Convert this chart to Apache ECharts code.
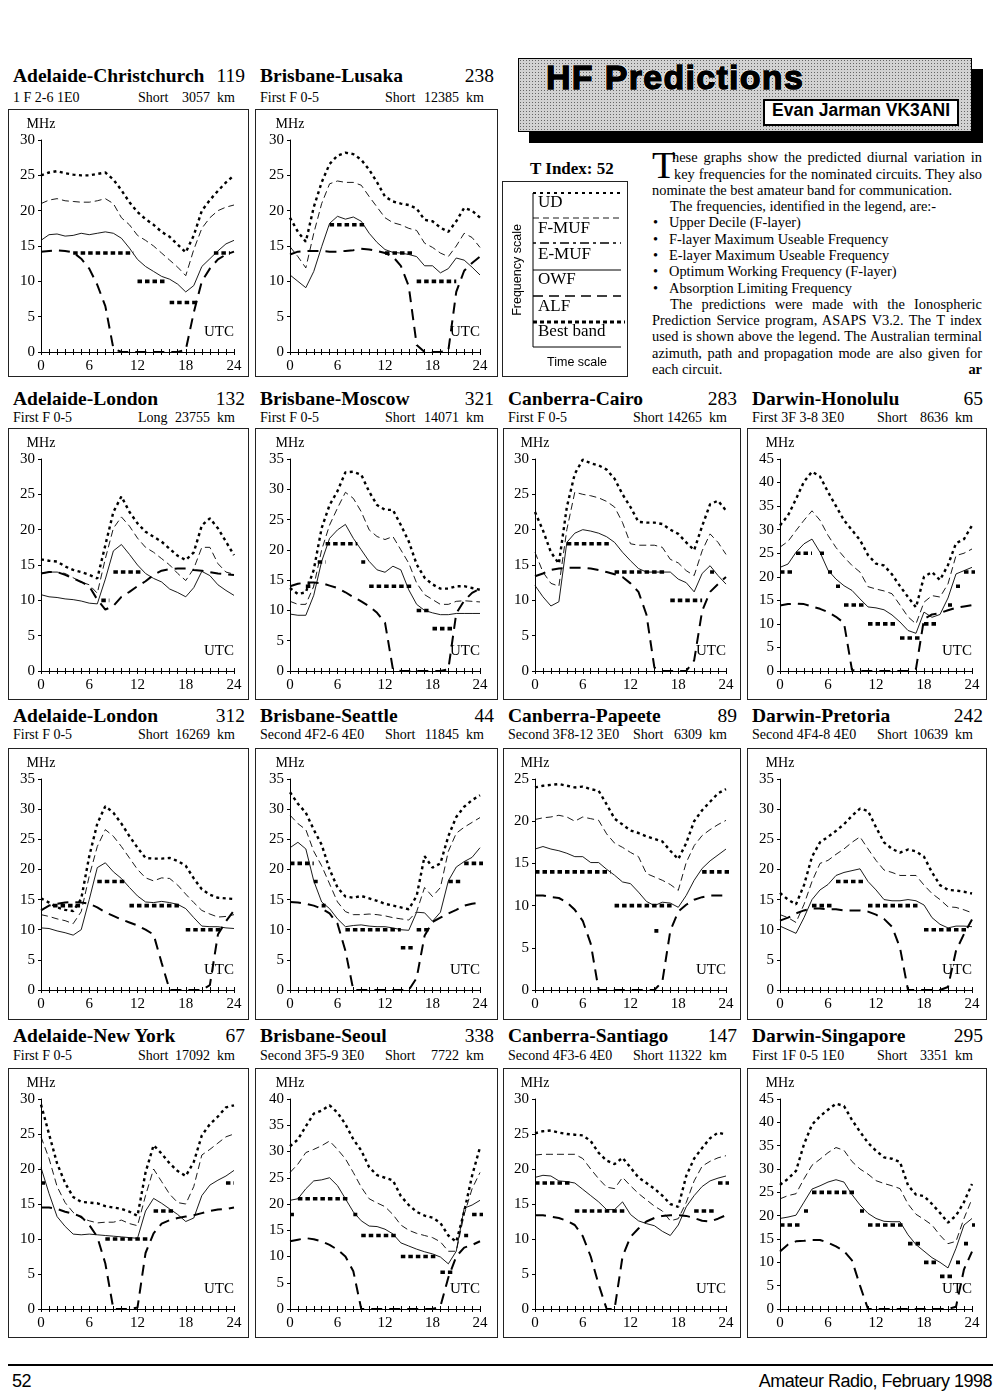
<!DOCTYPE html>
<html>
<head>
<meta charset="utf-8">
<script src="https://cdn.jsdelivr.net/npm/echarts/dist/echarts.min.js"></script>
<style>
html, body { margin: 0; padding: 0; background: #fff; }
body { width: 1000px; height: 1397px; position: relative; overflow: hidden; font-family: 'Liberation Serif', serif; color: #000; }
.t { position: absolute; white-space: nowrap; }
.box { position: absolute; border: 1px solid #222; box-sizing: border-box; }
.bl { position: absolute; font-size: 14.4px; line-height: 14.4px; white-space: nowrap; }
.j { text-align: justify; text-align-last: justify; white-space: normal; }
</style>
</head>
<body>

<!-- header -->
<div style="position:absolute;left:518px;top:58px;width:454px;height:74px;box-sizing:border-box;border:1.5px solid #000;
  background-color:#d2d2d2;background-image:radial-gradient(circle,#666 0.7px,transparent 1px);background-size:3px 3px;
  box-shadow:11px 11px 0 #000;"></div>
<div class="t" style="left:546px;top:60px;font-family:'Liberation Sans';font-weight:bold;font-size:34px;line-height:34px;letter-spacing:1.3px;
  -webkit-text-stroke:1.4px #000;text-shadow:1px 1px 0 #fff,-1px -1px 0 #fff,1px -1px 0 #fff,-1px 1px 0 #fff;">HF Predictions</div>
<div style="position:absolute;left:763px;top:99px;width:196px;height:27px;box-sizing:border-box;border:2px solid #000;background:#fff;"></div>
<div class="t" style="left:772px;top:102px;font-family:'Liberation Sans';font-weight:bold;font-size:17.5px;line-height:17.5px;">Evan Jarman VK3ANI</div>

<div class="t" style="left:530px;top:160px;font-weight:bold;font-size:17px;line-height:17px;">T Index: 52</div>
<div id="legend" style="position:absolute;left:502px;top:181px;width:126px;height:196px;box-sizing:border-box;border:1px solid #222;"></div>

<!-- body text -->
<div class="t" style="left:652px;top:146px;font-size:38.7px;line-height:38.7px;">T</div>
<div class="bl j" style="left:672px;top:150.2px;width:310px;">hese graphs show the predicted diurnal variation in</div>
<div class="bl j" style="left:674px;top:166.5px;width:308px;">key frequencies for the nominated circuits. They also</div>
<div class="bl" style="left:652px;top:182.8px;">nominate the best amateur band for communication.</div>
<div class="bl" style="left:670px;top:199.1px;">The frequencies, identified in the legend, are:-</div>
<div class="bl" style="left:653px;top:215.4px;">&bull;</div><div class="bl" style="left:669px;top:215.4px;">Upper Decile (F-layer)</div>
<div class="bl" style="left:653px;top:231.6px;">&bull;</div><div class="bl" style="left:669px;top:231.6px;">F-layer Maximum Useable Frequency</div>
<div class="bl" style="left:653px;top:247.9px;">&bull;</div><div class="bl" style="left:669px;top:247.9px;">E-layer Maximum Useable Frequency</div>
<div class="bl" style="left:653px;top:264.2px;">&bull;</div><div class="bl" style="left:669px;top:264.2px;">Optimum Working Frequency (F-layer)</div>
<div class="bl" style="left:653px;top:280.5px;">&bull;</div><div class="bl" style="left:669px;top:280.5px;">Absorption Limiting Frequency</div>
<div class="bl j" style="left:670px;top:296.8px;width:312px;">The predictions were made with the Ionospheric</div>
<div class="bl j" style="left:652px;top:313px;width:330px;">Prediction Service program, ASAPS V3.2. The T index</div>
<div class="bl j" style="left:652px;top:329.3px;width:330px;">used is shown above the legend. The Australian terminal</div>
<div class="bl j" style="left:652px;top:345.6px;width:330px;">azimuth, path and propagation mode are also given for</div>
<div class="bl" style="left:652px;top:361.9px;">each circuit.</div>
<div class="bl" style="right:18px;top:361.9px;font-weight:bold;">ar</div>

<!-- footer -->
<div style="position:absolute;left:8px;top:1364px;width:985px;height:1.5px;background:#000;"></div>
<div class="t" style="left:12px;top:1372px;font-family:'Liberation Sans';font-size:18px;line-height:18px;letter-spacing:-0.5px;">52</div>
<div class="t" style="right:8px;top:1372px;font-family:'Liberation Sans';font-size:18px;line-height:18px;letter-spacing:-0.5px;">Amateur Radio, February 1998</div>

<script>
const hours = [0,1,2,3,4,5,6,7,8,9,10,11,12,13,14,15,16,17,18,19,20,21,22,23,24];

// Adelaide-Christchurch
const c1UD   = [25.0,25.4,25.6,25.3,25.1,25.0,25.0,25.2,25.4,24.4,22.9,21.2,19.8,18.8,18.0,17.0,16.3,15.2,14.1,16.5,20.0,21.5,22.8,24.0,25.0];
const c1FMUF = [21.0,21.5,21.7,21.4,21.3,21.2,21.2,21.4,21.7,21.0,19.0,18.0,16.5,15.8,15.0,14.0,13.0,12.0,10.8,14.5,17.5,19.0,20.0,20.5,20.8];
const c1OWF  = [15.8,16.6,16.7,16.4,16.5,16.8,16.6,16.8,17.0,16.8,16.1,14.7,13.1,12.1,11.4,10.7,10.3,9.6,8.5,9.4,12.1,13.2,14.3,15.3,15.8];
const c1ALF  = [14.2,14.3,14.4,14.3,14.1,13.2,11.8,9.5,6.5,0.5,0,0,0,0,0,0,0,0,0.3,5.6,10,11.8,13.1,13.8,14.2];
const c1Best = [[4,11.5,14],[12,15.5,10],[16,19.5,7],[21.5,23.5,14]];

// Brisbane-Lusaka
const c2UD   = [19.0,17.0,15.6,20.5,24.0,26.6,27.8,28.2,28.0,27.2,25.8,24.0,22.0,21.3,21.0,20.8,20.3,18.7,18.5,17.6,17.0,18.5,20.4,20.0,19.0];
const c2FMUF = [14.9,13.5,11.9,16.8,21.0,23.8,24.2,24.0,24.0,23.6,22.0,20.5,19.0,18.3,18.0,17.5,17.2,15.4,14.8,14.0,13.5,15.0,16.8,16.2,14.8];
const c2OWF  = [10.9,10.0,9.1,11.4,14.9,18.2,19.2,18.8,19.1,18.5,16.8,15.5,14.5,14.1,14.0,13.8,13.5,12.2,12.2,11.2,11.8,13.3,13.0,12.0,10.9];
const c2ALF  = [13.8,14.2,14.3,14.3,14.3,14.2,14.2,14.3,14.4,14.6,14.5,14.3,14.0,13.5,12.2,9.3,1.0,0,0,0,0.2,8.5,11.5,12.6,13.5];
const c2Best = [[5,9.5,18],[12,15.5,14],[16,21,10]];

// Adelaide-London (long path)
const c3UD   = [15.8,15.6,15.5,14.8,14.3,14.0,13.6,13.1,17.8,22.5,24.7,22.5,20.9,19.7,19.0,18.3,17.3,16.3,15.7,16.8,20.6,21.6,20.2,18.3,16.4];
const c3FMUF = [13.8,14.0,14.0,13.8,13.2,12.6,12.2,11.0,15.9,20.2,21.8,20.5,18.8,17.5,16.8,15.9,15.0,13.8,12.8,14.5,17.5,17.5,15.2,14.0,13.7];
const c3OWF  = [10.8,10.5,10.4,10.2,10.1,9.9,9.6,9.5,13.0,17.0,17.9,16.5,15.0,13.8,13.1,12.6,11.6,11.1,10.5,11.8,14.1,13.5,12.2,11.4,10.7];
const c3ALF  = [13.8,14.0,14.0,13.6,13.1,12.6,12.0,10.1,8.7,9.2,10.5,11.2,12.0,12.7,13.6,14.2,14.4,14.5,14.5,14.3,14.2,14.0,13.8,13.7,13.6];
const c3Best = [[7.5,8.5,10],[9,12.5,14]];

// Brisbane-Moscow
const c4UD   = [13.7,12.7,13.0,16.7,23.6,27.4,29.7,32.8,32.9,32.4,29.6,27.4,26.6,26.6,24.1,21.4,17.6,15.4,14.3,13.6,13.6,14.0,14.0,13.7,13.4];
const c4FMUF = [11.5,11.0,11.0,14.0,20.0,24.1,26.9,29.5,28.5,26.3,23.3,22.2,21.7,22.2,20.0,17.8,14.5,12.6,11.8,11.0,11.0,11.5,11.6,11.5,11.4];
const c4OWF  = [9.4,9.2,9.2,12.5,18.1,21.9,23.3,24.2,21.9,20.0,18.1,16.7,16.3,17.3,16.7,13.4,11.0,10.0,9.6,9.3,9.3,9.5,9.5,9.5,9.5];
const c4ALF  = [14.0,14.4,14.6,14.6,14.5,14.1,13.7,13.0,12.2,11.5,10.7,9.6,8.0,0.3,0,0,0,0,0,0,0.3,9.5,11.6,12.9,13.6];
const c4Best = [[2,3,14],[3.5,4.5,18],[4.5,8.5,21],[9,9.5,18],[10,15.5,14],[16,17.5,10],[18,20.5,7]];

// Canberra-Cairo
const c5UD   = [22.5,19.9,16.8,15.2,23.2,27.9,29.9,29.4,29.1,28.5,27.2,25.0,23.2,21.1,21.0,21.0,20.8,20.0,19.4,18.2,17.1,20.5,23.6,24.1,22.7];
const c5FMUF = [16.8,14.0,12.4,12.0,20.0,25.3,25.0,24.8,24.5,24.0,23.2,21.0,18.0,17.8,17.8,17.8,17.5,15.8,15.3,14.2,13.5,17.0,19.4,18.2,16.5];
const c5OWF  = [12.1,10.5,9.2,9.8,18.2,19.5,20.0,19.8,19.5,19.0,18.2,16.8,15.6,14.5,14.0,14.0,14.0,14.0,13.0,12.5,11.2,13.8,14.9,13.5,12.3];
const c5ALF  = [13.4,13.8,14.3,14.5,14.6,14.6,14.6,14.5,14.3,14.0,13.7,13.3,12.4,11.2,8.0,0.5,0,0,0,0,1.5,8.5,11.2,12.3,13.3];
const c5Best = [[4,9.5,18],[10,16.5,14],[17,21,10],[22,22.5,14]];

// Darwin-Honolulu
const c6UD   = [30.9,33.0,36.5,40.2,42.3,41.3,38.0,35.0,32.0,29.9,27.8,24.6,22.8,22.4,20.5,18.0,15.7,13.5,20.0,21.0,19.3,22.5,27.1,28.0,30.9];
const c6FMUF = [26.3,27.5,29.8,32.0,34.0,32.0,28.8,26.2,24.2,22.4,21.0,17.9,17.4,17.0,16.4,14.0,11.5,10.0,14.6,16.0,15.7,18.5,24.5,25.0,25.9];
const c6OWF  = [22.0,22.7,25.2,27.0,28.0,25.2,21.4,19.5,18.1,17.1,15.3,13.6,13.4,13.0,11.9,10.4,8.6,8.0,12.5,11.4,12.0,15.5,20.6,21.3,22.0];
const c6ALF  = [13.9,14.2,14.3,14.2,13.7,13.2,12.5,11.5,10.2,0.2,0,0,0,0,0,0,0,0.5,11.0,12.0,12.3,12.9,13.4,13.7,14.0];
const c6Best = [[0,1.5,21],[2,4,25],[5,5.5,25],[6,6.5,21],[7,7.5,18],[8,10.5,14],[11,14.5,10],[15,17.5,7],[18,19.5,10],[21,21.5,14],[22,22.5,18],[23,24.5,21]];

// Adelaide-London (short path)
const c7UD   = [15.2,14.5,13.7,13.3,13.1,15.1,22.2,27.6,30.5,29.4,27.6,25.5,23.6,21.9,21.8,21.8,21.9,21.4,20.6,18.5,16.7,15.8,15.3,15.2,15.1];
const c7FMUF = [12.5,12.2,11.8,11.5,11.0,13.0,18.9,23.8,26.6,25.5,23.8,21.9,20.0,18.6,18.1,18.6,18.5,17.4,15.9,14.5,13.2,12.6,12.1,12.2,12.5];
const c7OWF  = [10.3,10.2,9.8,9.5,9.1,10.0,15.0,20.3,21.1,19.6,18.5,17.0,15.6,14.6,14.5,14.7,14.5,14.2,13.5,12.0,10.6,10.5,10.5,10.3,10.2];
const c7ALF  = [13.2,14.0,14.3,14.5,14.6,14.5,14.3,13.7,12.9,12.3,11.7,11.2,10.7,10.0,9.2,4.5,0,0,0,0,0,0.8,9.2,11.4,13.2];
const c7Best = [[1.5,5,14],[7,10.5,18],[11,17.5,14],[18,22.5,10]];

// Brisbane-Seattle
const c8UD   = [32.8,30.9,29.4,26.6,24.1,20.0,17.0,15.5,15.3,15.6,15.2,14.8,14.3,14.0,13.7,13.4,15.6,22.2,20.3,21.0,25.5,28.7,30.4,31.5,32.3];
const c8FMUF = [29.0,27.6,26.6,23.0,20.6,17.6,14.6,13.0,12.5,12.5,12.6,12.5,12.3,12.0,11.8,11.6,13.0,17.0,15.5,17.0,23.0,26.0,27.0,27.8,28.6];
const c8OWF  = [23.6,24.5,23.4,18.1,14.6,13.5,11.8,10.5,10.7,10.8,10.6,10.5,10.5,10.3,10.0,9.9,12.9,12.8,11.4,12.9,18.1,20.4,21.3,22.0,23.6];
const c8ALF  = [14.6,14.5,14.3,14.0,13.5,12.7,11.0,6.5,0,0,0,0,0,0,0,0,2.0,9.0,11.3,12.0,12.7,13.3,14.0,14.3,14.5];
const c8Best = [[0,3,21],[3,3.5,18],[4,4.5,14],[7,14,10],[14,15.5,7],[16,17.5,10],[20,21.5,18],[22,24.5,21]];

// Canberra-Papeete
const c9UD   = [24.0,24.2,24.3,24.4,24.2,24.0,24.1,23.8,23.6,22.0,20.3,19.6,18.9,18.6,18.2,17.9,17.6,16.5,15.5,17.4,20.0,21.3,22.3,23.3,23.8];
const c9FMUF = [20.2,20.4,20.5,20.7,20.5,20.0,20.5,20.3,20.1,18.5,17.4,16.9,16.3,15.8,13.8,13.4,13.0,12.5,11.8,15.1,17.1,18.3,19.0,19.6,20.1];
const c9OWF  = [16.7,17.0,16.7,16.5,16.2,15.8,15.8,15.1,15.1,14.3,13.6,12.8,12.6,11.6,10.5,10.0,10.4,10.3,9.8,11.2,13.0,14.4,15.3,16.0,16.7];
const c9ALF  = [11.2,11.2,11.0,10.9,10.4,9.5,8.2,5.5,0,0,0,0,0,0,0,0,1.0,7.0,9.3,10.1,10.7,11.0,11.2,11.2,11.2];
const c9Best = [[0,9.5,14],[10,17.5,10],[15,15.5,7],[21,24.5,14]];

// Darwin-Pretoria
const c10UD   = [16.1,15.0,14.2,17.4,22.1,24.5,25.4,26.4,27.5,28.9,30.1,29.7,27.0,24.5,23.4,22.8,23.3,23.0,22.1,19.5,17.4,16.6,16.5,16.3,16.0];
const c10FMUF = [12.5,12.0,11.2,14.2,18.0,21.0,21.5,22.5,23.4,24.5,25.4,23.4,21.5,19.9,19.5,19.0,19.0,19.0,17.4,16.0,15.0,13.8,13.7,13.3,12.8];
const c10OWF  = [10.6,10.0,9.4,12.0,15.0,16.6,17.5,19.0,19.5,19.8,20.1,18.0,16.6,15.0,14.8,14.8,15.0,14.8,14.1,12.0,10.9,10.3,10.6,10.6,10.5];
const c10ALF  = [11.5,12.0,12.7,13.2,13.5,13.5,13.4,13.4,13.2,13.2,13.2,13.0,12.5,11.8,10.5,7.0,0,0,0,0,0,0.5,6.5,9.3,11.7];
const c10Best = [[4,6.5,14],[7,10.5,18],[11,17.5,14],[18,23.5,10]];

// Adelaide-New York
const c11UD   = [29.2,25.0,20.8,18.0,16.0,15.3,15.2,15.1,14.7,14.5,14.3,13.9,13.3,19.5,23.4,22.2,20.8,19.7,19.0,21.0,24.8,26.4,27.5,28.8,29.1];
const c11FMUF = [24.6,21.5,17.5,15.2,13.8,13.0,12.6,12.3,12.4,12.4,12.7,12.2,11.9,16.2,20.0,18.2,16.4,15.2,15.0,17.5,22.0,22.8,23.7,24.6,25.0];
const c11OWF  = [20.2,16.5,13.2,11.8,10.7,10.6,10.7,10.6,10.5,10.4,10.3,10.2,10.1,14.0,15.8,15.1,14.3,13.5,12.5,13.0,16.2,17.7,18.4,19.0,19.8];
const c11ALF  = [14.5,14.5,14.3,13.9,13.6,13.2,12.0,10.3,6.5,0,0,0,0.2,8.0,10.8,12.2,12.7,13.0,13.2,13.4,13.7,14.0,14.2,14.3,14.5];
const c11Best = [[0,0.5,18],[8,13.5,10],[14,16.5,14],[23,24,18]];

// Brisbane-Seoul
const c12UD   = [31.0,32.3,34.8,37.2,37.8,38.8,37.4,35.2,32.3,30.2,27.0,25.5,25.0,24.5,21.5,19.8,18.5,17.8,17.4,16.4,14.0,12.8,18.5,25.4,30.8];
const c12FMUF = [26.0,27.6,29.8,30.4,31.1,32.0,30.4,28.6,26.0,23.2,21.0,20.2,19.5,18.0,16.0,15.0,14.4,14.0,13.6,12.8,11.0,11.0,18.0,22.9,26.0];
const c12OWF  = [20.7,21.0,22.9,24.4,24.6,25.0,23.5,21.0,18.5,16.8,15.8,15.7,15.2,14.3,12.6,12.0,11.4,10.9,10.5,9.9,8.6,11.0,19.2,19.8,20.7];
const c12ALF  = [12.9,13.2,13.5,13.3,12.9,12.2,11.3,10.0,7.2,0,0,0,0,0,0,0,0,0,0,0.5,6.0,10.0,11.7,12.2,12.9];
const c12Best = [[0,0.5,18],[1,7.5,21],[8,8.5,18],[9,13.5,14],[14,18.5,10],[19,20.5,7],[22,22.5,14],[23,24.5,18]];

// Canberra-Santiago
const c13UD   = [25.1,25.4,25.5,25.2,25.0,24.9,24.8,24.0,22.3,21.2,20.7,21.6,20.2,18.8,18.0,17.2,16.2,15.0,14.6,19.0,21.5,23.0,24.4,25.2,24.9];
const c13FMUF = [22.0,22.1,22.1,22.1,22.1,22.1,21.5,20.0,18.6,17.4,17.2,18.8,17.6,16.5,15.6,14.7,14.0,12.6,12.9,15.2,18.3,20.4,21.1,21.6,21.9];
const c13OWF  = [18.8,19.1,19.0,18.3,18.2,18.0,17.1,16.2,15.3,14.2,14.2,15.3,13.5,12.6,12.2,11.9,11.1,10.5,12.0,14.6,16.2,17.5,18.3,18.7,19.0];
const c13ALF  = [13.4,13.4,13.2,13.0,12.6,12.0,10.4,7.5,3.5,0,0,7.5,10.3,11.5,12.5,13.0,13.3,13.4,13.4,13.3,13.0,12.6,12.5,12.9,13.4];
const c13Best = [[0,4.5,18],[5,11.5,14],[20,22.5,14],[23,24.5,18]];

// Darwin-Singapore
const c14UD   = [26.6,27.9,29.6,35.3,39.5,41.3,42.7,44.0,43.5,40.5,38.0,35.6,33.9,32.5,32.2,31.5,26.5,24.5,24.2,22.5,20.6,18.5,20.0,22.9,26.8];
const c14FMUF = [23.6,24.3,24.7,27.9,30.8,32.1,33.5,34.6,34.0,31.6,30.0,28.9,27.5,26.9,26.4,25.8,22.5,20.3,19.2,18.0,15.8,14.0,14.5,19.4,23.6];
const c14OWF  = [19.4,19.7,20.1,22.9,25.7,26.4,27.2,27.7,27.2,24.5,22.3,20.5,19.4,18.8,18.7,18.7,15.9,13.8,12.4,11.0,10.0,8.8,13.0,18.0,19.4];
const c14ALF  = [12.3,13.8,14.5,14.6,14.8,14.8,14.2,13.4,12.4,10.4,5.0,0,0,0,0,0,0,0,0,0,0,0,0.5,8.5,12.3];
const c14Best = [[0,2.5,18],[3,3.5,21],[4,9.5,25],[10,10.5,21],[11,15.5,18],[16,17.5,14],[18,19.5,10],[20,21.5,7],[22,22.5,10],[23,23.5,14],[24,24.5,18]];

const circuits = [
    {title: 'Adelaide-Christchurch', num: '119', mode: '1 F 2-6 1E0', path: 'Short', km: '3057', ymax: 30, row: 0, col: 0, ud: c1UD, fmuf: c1FMUF, owf: c1OWF, alf: c1ALF, best: c1Best},
    {title: 'Brisbane-Lusaka', num: '238', mode: 'First F 0-5', path: 'Short', km: '12385', ymax: 30, row: 0, col: 1, ud: c2UD, fmuf: c2FMUF, owf: c2OWF, alf: c2ALF, best: c2Best},
    {title: 'Adelaide-London', num: '132', mode: 'First F 0-5', path: 'Long', km: '23755', ymax: 30, row: 1, col: 0, ud: c3UD, fmuf: c3FMUF, owf: c3OWF, alf: c3ALF, best: c3Best},
    {title: 'Brisbane-Moscow', num: '321', mode: 'First F 0-5', path: 'Short', km: '14071', ymax: 35, row: 1, col: 1, ud: c4UD, fmuf: c4FMUF, owf: c4OWF, alf: c4ALF, best: c4Best},
    {title: 'Canberra-Cairo', num: '283', mode: 'First F 0-5', path: 'Short', km: '14265', ymax: 30, row: 1, col: 2, ud: c5UD, fmuf: c5FMUF, owf: c5OWF, alf: c5ALF, best: c5Best},
    {title: 'Darwin-Honolulu', num: '65', mode: 'First 3F 3-8 3E0', path: 'Short', km: '8636', ymax: 45, row: 1, col: 3, ud: c6UD, fmuf: c6FMUF, owf: c6OWF, alf: c6ALF, best: c6Best},
    {title: 'Adelaide-London', num: '312', mode: 'First F 0-5', path: 'Short', km: '16269', ymax: 35, row: 2, col: 0, ud: c7UD, fmuf: c7FMUF, owf: c7OWF, alf: c7ALF, best: c7Best},
    {title: 'Brisbane-Seattle', num: '44', mode: 'Second 4F2-6 4E0', path: 'Short', km: '11845', ymax: 35, row: 2, col: 1, ud: c8UD, fmuf: c8FMUF, owf: c8OWF, alf: c8ALF, best: c8Best},
    {title: 'Canberra-Papeete', num: '89', mode: 'Second 3F8-12 3E0', path: 'Short', km: '6309', ymax: 25, row: 2, col: 2, ud: c9UD, fmuf: c9FMUF, owf: c9OWF, alf: c9ALF, best: c9Best},
    {title: 'Darwin-Pretoria', num: '242', mode: 'Second 4F4-8 4E0', path: 'Short', km: '10639', ymax: 35, row: 2, col: 3, ud: c10UD, fmuf: c10FMUF, owf: c10OWF, alf: c10ALF, best: c10Best},
    {title: 'Adelaide-New York', num: '67', mode: 'First F 0-5', path: 'Short', km: '17092', ymax: 30, row: 3, col: 0, ud: c11UD, fmuf: c11FMUF, owf: c11OWF, alf: c11ALF, best: c11Best},
    {title: 'Brisbane-Seoul', num: '338', mode: 'Second 3F5-9 3E0', path: 'Short', km: '7722', ymax: 40, row: 3, col: 1, ud: c12UD, fmuf: c12FMUF, owf: c12OWF, alf: c12ALF, best: c12Best},
    {title: 'Canberra-Santiago', num: '147', mode: 'Second 4F3-6 4E0', path: 'Short', km: '11322', ymax: 30, row: 3, col: 2, ud: c13UD, fmuf: c13FMUF, owf: c13OWF, alf: c13ALF, best: c13Best},
    {title: 'Darwin-Singapore', num: '295', mode: 'First 1F 0-5 1E0', path: 'Short', km: '3351', ymax: 45, row: 3, col: 3, ud: c14UD, fmuf: c14FMUF, owf: c14OWF, alf: c14ALF, best: c14Best}
];

// page layout of the panels
const cols = [
    {left: 8, w: 241, gl: 32, gr: 14},
    {left: 255, w: 243, gl: 34, gr: 17},
    {left: 503, w: 238, gl: 31, gr: 14},
    {left: 747, w: 240, gl: 32, gr: 14}
];
const rows = [
    {top: 109, h: 268, gb: 24, titleBase: 82.5, subBase: 102.7},
    {top: 428, h: 272, gb: 28, titleBase: 405, subBase: 422.3},
    {top: 748, h: 272, gb: 29, titleBase: 722.3, subBase: 740},
    {top: 1068, h: 270, gb: 28, titleBase: 1042.3, subBase: 1061}
];

const SERIF = 'Liberation Serif';

function addText(text, x, baseline, size, bold, align) {
    const d = document.createElement('div');
    d.className = 't';
    d.textContent = text;
    d.style.fontSize = size + 'px';
    d.style.lineHeight = size + 'px';
    d.style.top = (baseline - 0.8375 * size) + 'px';
    if (bold) d.style.fontWeight = 'bold';
    if (align === 'right') d.style.right = (1000 - x) + 'px';
    else d.style.left = x + 'px';
    document.body.appendChild(d);
}

function buildOption(c, col, row) {
    const pts = arr => hours.map((h, i) => [h, arr[i]]);
    const best = [];
    c.best.forEach(s => {
        best.push([s[0], s[2]], [s[1], s[2]], [s[1], '-']);
    });
    const tick = {color: '#000', width: 1};
    const lbl = {color: '#000', fontFamily: SERIF, fontSize: 15};
    return {
        animation: false,
        grid: {left: col.gl, right: col.gr, top: 30, bottom: row.gb},
        xAxis: [
            {
                type: 'value', min: 0, max: 24, interval: 6, position: 'bottom',
                axisLine: {lineStyle: {color: '#000', width: 1}},
                axisTick: {length: 3, lineStyle: tick},
                minorTick: {show: true, splitNumber: 6, length: 3, lineStyle: tick},
                axisLabel: Object.assign({margin: 7}, lbl),
                splitLine: {show: false}
            },
            {
                // ticks crossing the axis on the inner side too
                type: 'value', min: 0, max: 24, interval: 6, position: 'bottom',
                axisLine: {show: false},
                axisTick: {show: true, inside: true, length: 3, lineStyle: tick},
                minorTick: {show: true, splitNumber: 6, length: 3, lineStyle: tick},
                axisLabel: {show: false},
                splitLine: {show: false}
            }
        ],
        yAxis: {
            type: 'value', min: 0, max: c.ymax, interval: 5,
            name: 'MHz', nameGap: 9,
            nameTextStyle: {color: '#000', fontFamily: SERIF, fontSize: 14},
            axisLine: {show: true, lineStyle: {color: '#000', width: 1}},
            axisTick: {show: true, length: 3, lineStyle: tick},
            axisLabel: Object.assign({margin: 6}, lbl),
            splitLine: {show: false}
        },
        graphic: [{
            type: 'text', right: col.gr, bottom: row.gb + 12,
            style: {text: 'UTC', fill: '#000', font: '15px "Liberation Serif"'}
        }],
        series: [
            {name: 'UD', type: 'line', data: pts(c.ud), symbol: 'none',
                lineStyle: {color: '#000', width: 2.4, type: [3, 3.5]}},
            {name: 'F-MUF', type: 'line', data: pts(c.fmuf), symbol: 'none',
                lineStyle: {color: '#000', width: 0.9, type: [7, 4]}},
            {name: 'OWF', type: 'line', data: pts(c.owf), symbol: 'none',
                lineStyle: {color: '#000', width: 0.9, type: 'solid'}},
            {name: 'ALF', type: 'line', data: pts(c.alf), symbol: 'none',
                lineStyle: {color: '#000', width: 2, type: [11, 7]}},
            {name: 'Best band', type: 'line', data: best, symbol: 'none', clip: false, connectNulls: false,
                lineStyle: {color: '#000', width: 3.6, type: [4.5, 3]}}
        ]
    };
}

circuits.forEach(c => {
    const col = cols[c.col], row = rows[c.row];
    addText(c.title, col.left + 5, row.titleBase, 19.5, true, 'left');
    addText(c.num, col.left + col.w - 4, row.titleBase, 19.5, false, 'right');
    addText(c.mode, col.left + 5, row.subBase, 14, false, 'left');
    addText(c.path, col.left + 130, row.subBase, 14, false, 'left');
    addText(c.km + '\u00a0 km', col.left + col.w - 14, row.subBase, 14, false, 'right');

    const box = document.createElement('div');
    box.className = 'box';
    box.style.left = col.left + 'px';
    box.style.top = row.top + 'px';
    box.style.width = col.w + 'px';
    box.style.height = row.h + 'px';
    document.body.appendChild(box);
    const chart = echarts.init(box);
    chart.setOption(buildOption(c, col, row));
});

// legend panel
const lg = echarts.init(document.getElementById('legend'));
const legLine = (y, x2, style) => ({
    type: 'line', shape: {x1: 30, y1: y, x2: x2, y2: y},
    style: Object.assign({stroke: '#000', lineWidth: 1}, style)
});
const legText = (txt, y) => ({
    type: 'text', x: 35, y: y,
    style: {text: txt, fill: '#000', font: '17px "Liberation Serif"', textVerticalAlign: 'middle'}
});
lg.setOption({
    animation: false,
    graphic: [
        {type: 'line', shape: {x1: 30, y1: 11, x2: 30, y2: 165}, style: {stroke: '#000', lineWidth: 1}},
        legLine(165, 118, {}),
        legLine(11, 118, {lineWidth: 2, lineDash: [3, 4]}),
        legLine(36, 118, {lineWidth: 0.9, lineDash: [6, 4]}),
        legLine(61, 118, {lineWidth: 1.6, lineDash: [3, 4, 9, 4]}),
        legLine(88, 118, {lineWidth: 1}),
        legLine(114, 118, {lineWidth: 1.6, lineDash: [10, 6]}),
        legLine(140, 122, {lineWidth: 3, lineDash: [4, 3]}),
        legText('UD', 21),
        legText('F-MUF', 47),
        legText('E-MUF', 73),
        legText('OWF', 98),
        legText('ALF', 125),
        legText('Best band', 150),
        {type: 'text', x: 15, y: 88, rotation: Math.PI / 2,
            style: {text: 'Frequency scale', fill: '#000', font: '12.5px "Liberation Sans"', textAlign: 'center', textVerticalAlign: 'middle'}},
        {type: 'text', x: 74, y: 181,
            style: {text: 'Time scale', fill: '#000', font: '12.5px "Liberation Sans"', textAlign: 'center', textVerticalAlign: 'middle'}}
    ]
});
</script>
</body>
</html>
